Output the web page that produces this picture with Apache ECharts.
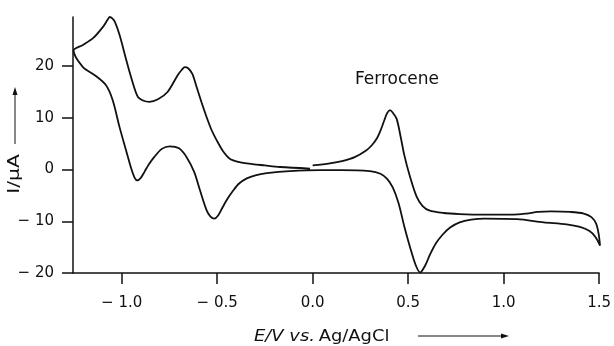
<!DOCTYPE html>
<html>
<head>
<meta charset="utf-8">
<script src="https://cdn.jsdelivr.net/npm/echarts@6/dist/echarts.min.js"></script>
<style>html,body{margin:0;padding:0;background:#fff}#c{width:614px;height:346px}</style>
</head>
<body>
<div id="c"></div>
<script>
// Cyclic voltammogram: potential (V vs Ag/AgCl) and current (µA), in scan order
const potential = [
  0.00, 0.09, 0.16, 0.22, 0.28, 0.31, 0.336, 0.356, 0.372, 0.39, 0.405, 0.42, 0.44, 0.46, 0.48, 0.51, 0.545, 0.575, 0.61, 0.685, 0.77, 0.90, 1.05, 1.12, 1.18, 1.25, 1.35, 1.42, 1.46, 1.485, 1.498, 1.505,
  1.48, 1.45, 1.40, 1.33, 1.21, 1.07, 0.90, 0.83, 0.77, 0.72, 0.68, 0.645, 0.615, 0.59, 0.563, 0.54, 0.51, 0.48, 0.45, 0.42, 0.39, 0.355, 0.30, 0.15, 0.04,
  -0.12, -0.24, -0.30, -0.345, -0.385, -0.415, -0.445, -0.47, -0.495, -0.515, -0.535, -0.555, -0.59, -0.62, -0.66, -0.70, -0.748, -0.79, -0.83, -0.86, -0.88, -0.90, -0.918, -0.932, -0.95, -0.977, -1.012, -1.047, -1.082, -1.143, -1.203, -1.252,
  -1.203, -1.15, -1.098, -1.075, -1.063, -1.048, -1.035, -1.011, -0.976, -0.951, -0.916, -0.885, -0.855, -0.81, -0.76, -0.706, -0.685, -0.67, -0.652, -0.63, -0.608, -0.582, -0.556, -0.53, -0.503, -0.47, -0.434, -0.39, -0.346, -0.25, -0.171, -0.014
];
const current = [
  0.8, 1.2, 1.7, 2.4, 3.7, 4.7, 6.0, 7.6, 9.2, 10.9, 11.5, 11.0, 9.8, 6.5, 2.8, -1.4, -5.3, -7.0, -7.9, -8.4, -8.6, -8.7, -8.7, -8.5, -8.2, -8.1, -8.2, -8.5, -9.2, -10.5, -12.5, -14.7,
  -13.0, -11.9, -11.1, -10.6, -10.2, -9.6, -9.5, -9.7, -10.2, -11.2, -12.6, -14.3, -16.4, -18.5, -19.9, -18.5, -15.0, -11.0, -6.5, -3.5, -1.8, -0.8, -0.3, -0.1, -0.1,
  -0.3, -0.7, -1.1, -1.7, -2.7, -4.0, -5.6, -7.2, -8.9, -9.5, -9.1, -7.9, -4.0, -0.5, 2.4, 4.1, 4.5, 4.0, 2.4, 0.9, -0.4, -1.6, -2.1, -1.6, 0.2, 3.7, 8.3, 13.4, 16.3, 18.3, 19.8, 23.0,
  24.1, 25.4, 27.6, 28.9, 29.5, 29.2, 28.5, 26.0, 21.2, 17.9, 14.1, 13.3, 13.1, 13.6, 15.0, 18.3, 19.3, 19.8, 19.6, 18.5, 16.0, 13.0, 10.2, 7.7, 5.7, 3.6, 2.1, 1.5, 1.2, 0.8, 0.5, 0.2
];
const xTicks = [-1.0, -0.5, 0.0, 0.5, 1.0, 1.5];
const yTicks = [-20, -10, 0, 10, 20];
const annotation = 'Ferrocene';

const data = potential.map((x, i) => [x, current[i]]);
const font = 'DejaVu Sans';
const fmt = (v, d) => (v < 0 ? '\u2212 ' + Math.abs(v).toFixed(d) : v.toFixed(d));

const chart = echarts.init(document.getElementById('c'), null, {renderer: 'canvas'});
chart.setOption({
  animation: false,
  backgroundColor: '#fff',
  grid: {left: 73, right: 14, top: 17, bottom: 73},
  xAxis: {
    type: 'value', min: -1.255, max: 1.5,
    splitLine: {show: false},
    axisLine: {show: true, onZero: false, lineStyle: {color: '#111', width: 1.5}},
    axisTick: {show: true, inside: false, length: 11, customValues: xTicks, lineStyle: {color: '#111', width: 1.5}},
    axisLabel: {customValues: xTicks, margin: 23, color: '#111', fontFamily: font, fontSize: 15,
      formatter: v => fmt(v, 1)}
  },
  yAxis: {
    type: 'value', min: -20, max: 29.5,
    splitLine: {show: false},
    axisLine: {show: true, onZero: false, lineStyle: {color: '#111', width: 1.5}},
    axisTick: {show: true, inside: false, length: 11, customValues: yTicks, lineStyle: {color: '#111', width: 1.5}},
    axisLabel: {customValues: yTicks, margin: 19, color: '#111', fontFamily: font, fontSize: 15,
      formatter: v => fmt(v, 0)}
  },
  series: [{
    type: 'line', data: data, showSymbol: false, symbol: 'none', smooth: 0.3,
    lineStyle: {color: '#111', width: 1.8}
  }],
  graphic: [
    {type: 'text', left: 355, top: 71, style: {text: annotation, fontFamily: font, fontSize: 17, fill: '#111'}},
    {type: 'text', x: 254, y: 337, style: {
      text: '{i|E/V vs.} {n|Ag/AgCl}', verticalAlign: 'middle', align: 'left', fill: '#111',
      rich: {i: {fontFamily: font, fontStyle: 'italic', fontSize: 16, fill: '#111'},
             n: {fontFamily: font, fontSize: 16, fill: '#111'}}
    }, scaleX: 1.12},
    {type: 'line', shape: {x1: 418, y1: 336, x2: 506, y2: 336}, style: {stroke: '#111', lineWidth: 1}},
    {type: 'polygon', shape: {points: [[509, 336], [501, 333.5], [501, 338.5]]}, style: {fill: '#111'}},
    {type: 'text', x: 15, y: 174, rotation: Math.PI / 2, scaleX: 1.35, style: {
      text: 'I/\u03bcA', fontFamily: font, fontSize: 15, fill: '#111', align: 'center', verticalAlign: 'middle'}},
    {type: 'line', shape: {x1: 15, y1: 144, x2: 15, y2: 92}, style: {stroke: '#111', lineWidth: 1}},
    {type: 'polygon', shape: {points: [[15, 87], [12.5, 95], [17.5, 95]]}, style: {fill: '#111'}}
  ]
});
</script>
</body>
</html>
